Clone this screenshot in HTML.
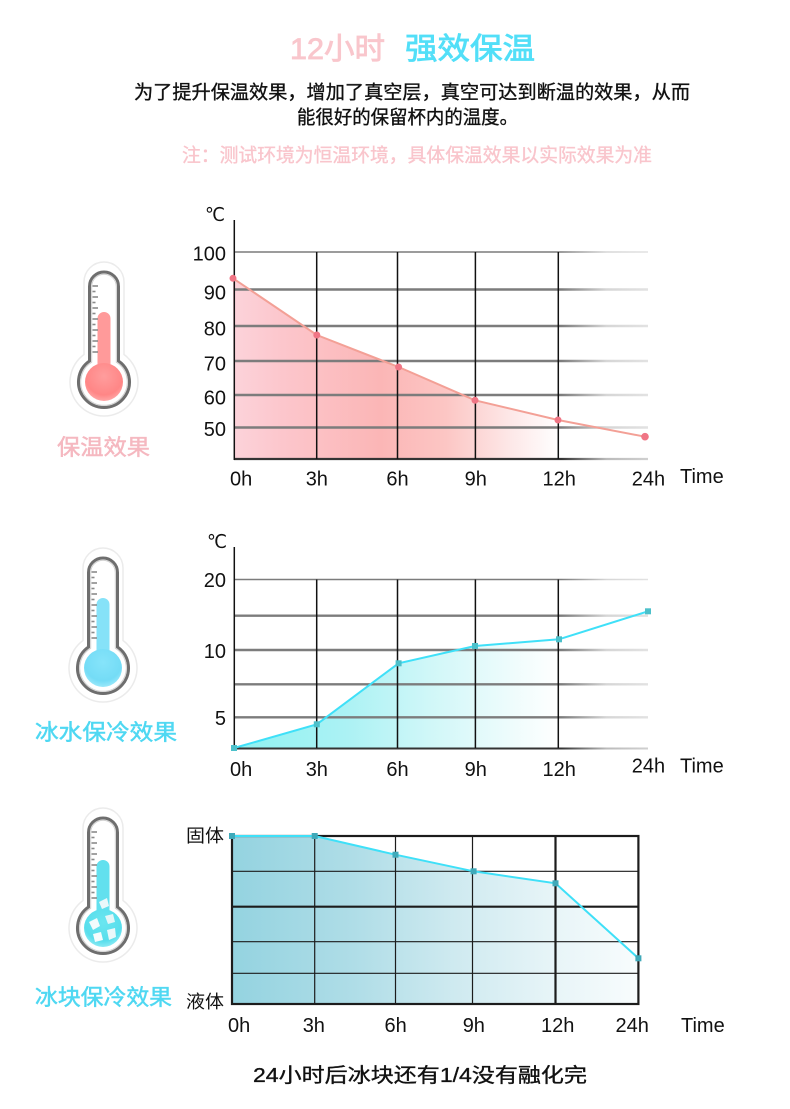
<!DOCTYPE html>
<html><head><meta charset="utf-8"><style>
html,body{margin:0;padding:0;background:#fff;}
svg{display:block;}
.cjk{font-family:"Liberation Sans","Noto Sans CJK SC",sans-serif;}
.num{font-family:"Liberation Sans","DejaVu Sans",sans-serif;font-size:20px;fill:#111;}
</style></head><body>
<svg width="790" height="1109" viewBox="0 0 790 1109" xmlns="http://www.w3.org/2000/svg">
<defs>
  <linearGradient id="grid" gradientUnits="userSpaceOnUse" x1="234" y1="0" x2="648" y2="0">
    <stop offset="0" stop-color="#7c7c7c"/><stop offset="0.79" stop-color="#7c7c7c"/>
    <stop offset="0.9" stop-color="#d6d6d6"/><stop offset="1" stop-color="#e2e2e2"/>
  </linearGradient>
  <linearGradient id="axis" gradientUnits="userSpaceOnUse" x1="234" y1="0" x2="648" y2="0">
    <stop offset="0" stop-color="#333"/><stop offset="0.79" stop-color="#333"/>
    <stop offset="0.9" stop-color="#bbb"/><stop offset="1" stop-color="#d0d0d0"/>
  </linearGradient>
  <linearGradient id="f1" gradientUnits="userSpaceOnUse" x1="234" y1="0" x2="560" y2="0">
    <stop offset="0" stop-color="#fcd3da"/><stop offset="0.15" stop-color="#fcc6cc"/>
    <stop offset="0.45" stop-color="#fbb6b6"/><stop offset="0.65" stop-color="#fcc6c4"/>
    <stop offset="0.85" stop-color="#fde8e8"/><stop offset="1" stop-color="#ffffff"/>
  </linearGradient>
  <linearGradient id="f2" gradientUnits="userSpaceOnUse" x1="234" y1="0" x2="560" y2="0">
    <stop offset="0" stop-color="#8ef2f2"/><stop offset="0.35" stop-color="#acf2f4"/>
    <stop offset="0.6" stop-color="#d0f7f8"/><stop offset="0.85" stop-color="#eefcfc"/>
    <stop offset="1" stop-color="#ffffff"/>
  </linearGradient>
  <linearGradient id="f3" gradientUnits="userSpaceOnUse" x1="232" y1="0" x2="638" y2="0">
    <stop offset="0" stop-color="#94d3e0"/><stop offset="0.3" stop-color="#afdde7"/>
    <stop offset="0.55" stop-color="#cfeaf0"/><stop offset="0.8" stop-color="#e8f5f8"/>
    <stop offset="1" stop-color="#f8fcfd"/>
  </linearGradient>
  <radialGradient id="bulbR" cx="0.5" cy="0.35" r="0.7">
    <stop offset="0" stop-color="#ff9d9d"/><stop offset="0.7" stop-color="#ff8686"/><stop offset="1" stop-color="#ffb0b0"/>
  </radialGradient>
  <radialGradient id="bulbB" cx="0.5" cy="0.35" r="0.7">
    <stop offset="0" stop-color="#86e4fa"/><stop offset="0.7" stop-color="#74dcf6"/><stop offset="1" stop-color="#a6ecfb"/>
  </radialGradient>
  <radialGradient id="bulbC" cx="0.5" cy="0.35" r="0.7">
    <stop offset="0" stop-color="#6ae6f0"/><stop offset="0.7" stop-color="#58deec"/><stop offset="1" stop-color="#9aeef6"/>
  </radialGradient>
  <g id="thermBase">
    <path d="M-20,-27.5 L-20,-100 A20,20 0 0 1 20,-100 L20,-27.5 A34,34 0 1 1 -20,-27.5 Z" fill="#fff" stroke="#ebebeb" stroke-width="1.5"/>
    <path d="M-14.5,-21 L-14.5,-95.5 A14.5,14.5 0 0 1 14.5,-95.5 L14.5,-21 A25.5,25.5 0 1 1 -14.5,-21 Z" fill="#fff" stroke="#6e6e6e" stroke-width="3"/>
    <path d="M-12.3,-19.8 L-12.3,-95.5 A12.3,12.3 0 0 1 12.3,-95.5 L12.3,-19.8 A23.3,23.3 0 1 1 -12.3,-19.8 Z" fill="none" stroke="#cfcfcf" stroke-width="1"/>
  </g>
  <g id="ticks" stroke="#8a8a8a" stroke-width="1.6">
    <line x1="-11.5" y1="-96" x2="-6" y2="-96"/><line x1="-11.5" y1="-90.5" x2="-8.5" y2="-90.5"/>
    <line x1="-11.5" y1="-85" x2="-6" y2="-85"/><line x1="-11.5" y1="-79.5" x2="-8.5" y2="-79.5"/>
    <line x1="-11.5" y1="-74" x2="-6" y2="-74"/><line x1="-11.5" y1="-68.5" x2="-8.5" y2="-68.5"/>
    <line x1="-11.5" y1="-63" x2="-6" y2="-63"/><line x1="-11.5" y1="-57.5" x2="-8.5" y2="-57.5"/>
    <line x1="-11.5" y1="-52" x2="-6" y2="-52"/><line x1="-11.5" y1="-46.5" x2="-8.5" y2="-46.5"/>
    <line x1="-11.5" y1="-41" x2="-6" y2="-41"/><line x1="-11.5" y1="-35.5" x2="-8.5" y2="-35.5"/>
    <line x1="-11.5" y1="-30" x2="-6" y2="-30"/>
  </g>
</defs>

<!-- Header -->
<text class="cjk" x="290" y="59" font-size="30" fill="#f9c6cc" stroke="#f9c6cc" stroke-width="0.8" textLength="95" lengthAdjust="spacingAndGlyphs">12小时</text>
<text class="cjk" x="405" y="59" font-size="30" fill="#52dff8" stroke="#52dff8" stroke-width="0.8" textLength="130" lengthAdjust="spacingAndGlyphs">强效保温</text>
<text class="cjk" x="134" y="98.5" font-size="19" fill="#111" stroke="#111" stroke-width="0.35" textLength="556" lengthAdjust="spacingAndGlyphs">为了提升保温效果，增加了真空层，真空可达到断温的效果，从而</text>
<text class="cjk" x="297" y="123.5" font-size="19" fill="#111" stroke="#111" stroke-width="0.35" textLength="221" lengthAdjust="spacingAndGlyphs">能很好的保留杯内的温度。</text>
<text class="cjk" x="182" y="161.5" font-size="19" fill="#f9c5cc" stroke="#f9c5cc" stroke-width="0.35" textLength="470" lengthAdjust="spacingAndGlyphs">注：测试环境为恒温环境，具体保温效果以实际效果为准</text>

<!-- Thermometer 1 -->
<g transform="translate(104,382)">
  <use href="#thermBase"/>
  <rect x="-6.5" y="-70" width="13" height="70" rx="6.5" fill="#ff9a9a"/>
  <circle cx="0" cy="0" r="19" fill="url(#bulbR)"/>
  <use href="#ticks"/>
</g>
<text class="cjk" x="57" y="455" font-size="22" fill="#f5b8c0" stroke="#f5b8c0" stroke-width="0.5" textLength="93" lengthAdjust="spacingAndGlyphs">保温效果</text>

<!-- Thermometer 2 -->
<g transform="translate(103,668)">
  <use href="#thermBase"/>
  <rect x="-6.5" y="-70" width="13" height="70" rx="6.5" fill="#86e2f8"/>
  <circle cx="0" cy="0" r="19" fill="url(#bulbB)"/>
  <use href="#ticks"/>
</g>
<text class="cjk" x="35" y="740" font-size="22" fill="#4fd8f2" stroke="#4fd8f2" stroke-width="0.5" textLength="142" lengthAdjust="spacingAndGlyphs">冰水保冷效果</text>

<!-- Thermometer 3 -->
<g transform="translate(103,928)">
  <use href="#thermBase"/>
  <rect x="-6.5" y="-68" width="13" height="68" rx="6.5" fill="#62e0ee"/>
  <circle cx="0" cy="0" r="19" fill="url(#bulbC)"/>
  <polygon points="-4,-26 4,-30 6,-22 -1,-19" fill="#eaf8fa"/>
  <polygon points="-14,-6 -6,-10 -3,-2 -10,2" fill="#f2fbfc"/>
  <polygon points="2,-12 10,-14 12,-6 5,-4" fill="#e4f6f8"/>
  <polygon points="-10,6 -2,4 0,12 -8,14" fill="#f4fcfd"/>
  <polygon points="4,2 12,0 13,9 6,12" fill="#eaf8fa"/>
  <use href="#ticks"/>
</g>
<text class="cjk" x="35" y="1005" font-size="22" fill="#4fd8f2" stroke="#4fd8f2" stroke-width="0.5" textLength="137" lengthAdjust="spacingAndGlyphs">冰块保冷效果</text>

<!-- Chart 1 -->
<polygon points="233,278.3 316.8,335 398.6,367 475,400.3 558,420 645,436.7 645,459 234,459" fill="url(#f1)"/>
<line x1="234" y1="252" x2="648" y2="252" stroke="url(#grid)" stroke-width="1.6"/>
<line x1="234" y1="289.5" x2="648" y2="289.5" stroke="url(#grid)" stroke-width="2.4"/>
<line x1="234" y1="326" x2="648" y2="326" stroke="url(#grid)" stroke-width="2.4"/>
<line x1="234" y1="361" x2="648" y2="361" stroke="url(#grid)" stroke-width="2.4"/>
<line x1="234" y1="395" x2="648" y2="395" stroke="url(#grid)" stroke-width="2.4"/>
<line x1="234" y1="427.5" x2="648" y2="427.5" stroke="url(#grid)" stroke-width="2.4"/>
<line x1="234" y1="459" x2="648" y2="459" stroke="url(#axis)" stroke-width="2.2"/>
<g stroke="#111" stroke-width="1.5">
  <line x1="234.3" y1="220" x2="234.3" y2="460"/>
  <line x1="316.7" y1="252" x2="316.7" y2="459"/>
  <line x1="397.5" y1="252" x2="397.5" y2="459"/>
  <line x1="475.4" y1="252" x2="475.4" y2="459"/>
  <line x1="558.3" y1="252" x2="558.3" y2="459"/>
</g>
<polyline points="233,278.3 316.8,335 398.6,367 475,400.3 558,420 645,436.7" fill="none" stroke="#f3a096" stroke-width="2"/>
<g fill="#f07585">
  <circle cx="233" cy="278.3" r="3.5"/><circle cx="316.8" cy="335" r="3.5"/><circle cx="398.6" cy="367" r="3.5"/>
  <circle cx="475" cy="400.3" r="3.5"/><circle cx="558" cy="420" r="3.5"/><circle cx="645" cy="436.7" r="3.8"/>
</g>
<text x="205" y="221" font-size="19" fill="#111" font-family="'DejaVu Sans','Noto Sans CJK SC',sans-serif" textLength="20" lengthAdjust="spacingAndGlyphs">℃</text>
<g class="num" text-anchor="end">
  <text x="226" y="260.7">100</text><text x="226" y="299.5">90</text><text x="226" y="335.5">80</text>
  <text x="226" y="370.5">70</text><text x="226" y="404.5">60</text><text x="226" y="436">50</text>
</g>
<g class="num">
  <text x="230" y="485.5">0h</text><text x="305.7" y="485.5">3h</text><text x="386.4" y="485.5">6h</text>
  <text x="464.6" y="485.5">9h</text><text x="542.5" y="485.5">12h</text><text x="631.8" y="485.5">24h</text>
  <text x="680" y="483">Time</text>
</g>

<!-- Chart 2 -->
<polygon points="234,748 316.8,724.3 398.6,663.3 475,646 559,639.3 648,611.3 648,748" fill="url(#f2)"/>
<line x1="234" y1="579.5" x2="648" y2="579.5" stroke="url(#grid)" stroke-width="1.6"/>
<line x1="234" y1="615.7" x2="648" y2="615.7" stroke="url(#grid)" stroke-width="2.4"/>
<line x1="234" y1="650" x2="648" y2="650" stroke="url(#grid)" stroke-width="2.4"/>
<line x1="234" y1="684.3" x2="648" y2="684.3" stroke="url(#grid)" stroke-width="2.4"/>
<line x1="234" y1="717.3" x2="648" y2="717.3" stroke="url(#grid)" stroke-width="2.4"/>
<line x1="234" y1="748.5" x2="648" y2="748.5" stroke="url(#axis)" stroke-width="2"/>
<g stroke="#111" stroke-width="1.5">
  <line x1="234.3" y1="547" x2="234.3" y2="749"/>
  <line x1="316.7" y1="579.5" x2="316.7" y2="748"/>
  <line x1="397.5" y1="579.5" x2="397.5" y2="748"/>
  <line x1="475.4" y1="579.5" x2="475.4" y2="748"/>
  <line x1="558.3" y1="579.5" x2="558.3" y2="748"/>
</g>
<polyline points="234,748 316.8,724.3 398.6,663.3 475,646 559,639.3 648,611.3" fill="none" stroke="#3fe0f8" stroke-width="2"/>
<g fill="#4cc0ca">
  <rect x="231" y="745" width="6" height="6"/><rect x="313.8" y="721.3" width="6" height="6"/>
  <rect x="395.6" y="660.3" width="6" height="6"/><rect x="472" y="643" width="6" height="6"/>
  <rect x="556" y="636.3" width="6" height="6"/><rect x="645" y="608.3" width="6" height="6"/>
</g>
<text x="207" y="548" font-size="19" fill="#111" font-family="'DejaVu Sans','Noto Sans CJK SC',sans-serif" textLength="20" lengthAdjust="spacingAndGlyphs">℃</text>
<g class="num" text-anchor="end">
  <text x="226" y="587">20</text><text x="226" y="657.8">10</text><text x="226" y="724.8">5</text>
</g>
<g class="num">
  <text x="230" y="775.8">0h</text><text x="305.7" y="775.8">3h</text><text x="386.4" y="775.8">6h</text>
  <text x="464.6" y="775.8">9h</text><text x="542.5" y="775.8">12h</text><text x="631.8" y="772.5">24h</text>
  <text x="680" y="772.5">Time</text>
</g>

<!-- Chart 3 -->
<polygon points="232,836 314.7,836 395.5,854.7 473.6,871.3 555.5,883.3 638.4,958.3 638.4,1004 232,1004" fill="url(#f3)"/>
<g stroke="#1c1c1c">
  <line x1="232" y1="871.3" x2="638.4" y2="871.3" stroke-width="1.2"/>
  <line x1="232" y1="906.7" x2="638.4" y2="906.7" stroke-width="2.2"/>
  <line x1="232" y1="941.7" x2="638.4" y2="941.7" stroke-width="1.2"/>
  <line x1="232" y1="973.3" x2="638.4" y2="973.3" stroke-width="1.2"/>
  <line x1="314.7" y1="836" x2="314.7" y2="1004" stroke-width="1.2"/>
  <line x1="395.5" y1="836" x2="395.5" y2="1004" stroke-width="1.2"/>
  <line x1="472.5" y1="836" x2="472.5" y2="1004" stroke-width="1.2"/>
  <line x1="555.5" y1="836" x2="555.5" y2="1004" stroke-width="2.2"/>
  <rect x="232" y="836" width="406.4" height="168" fill="none" stroke-width="2.2"/>
</g>
<polyline points="232,836 314.7,836 395.5,854.7 473.6,871.3 555.5,883.3 638.4,958.3" fill="none" stroke="#3fe0f8" stroke-width="2"/>
<g fill="#3fa9b9">
  <rect x="229" y="833" width="6" height="6"/><rect x="311.7" y="833" width="6" height="6"/>
  <rect x="392.5" y="851.7" width="6" height="6"/><rect x="470.6" y="868.3" width="6" height="6"/>
  <rect x="552.5" y="880.3" width="6" height="6"/><rect x="635.4" y="955.3" width="6" height="6"/>
</g>
<text class="cjk" x="186" y="842" font-size="18" fill="#111" textLength="38" lengthAdjust="spacingAndGlyphs">固体</text>
<text class="cjk" x="186" y="1008" font-size="18" fill="#111" textLength="38" lengthAdjust="spacingAndGlyphs">液体</text>
<g class="num">
  <text x="228" y="1032">0h</text><text x="302.7" y="1032">3h</text><text x="384.5" y="1032">6h</text>
  <text x="462.7" y="1032">9h</text><text x="541" y="1032">12h</text><text x="615.5" y="1032">24h</text>
  <text x="681" y="1032">Time</text>
</g>

<!-- Bottom note -->
<text class="cjk" x="253" y="1082" font-size="20" fill="#111" stroke="#111" stroke-width="0.35" textLength="334" lengthAdjust="spacingAndGlyphs">24小时后冰块还有1/4没有融化完</text>
</svg>
</body></html>
